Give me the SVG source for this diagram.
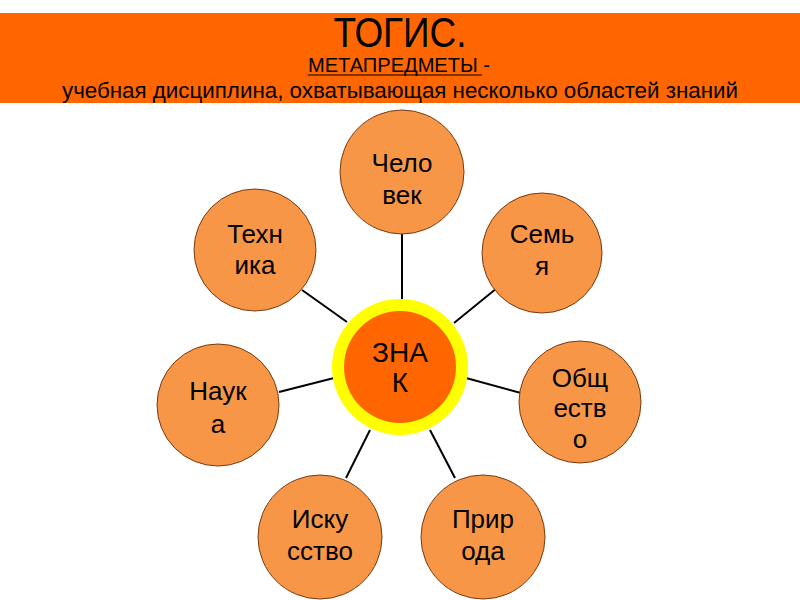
<svg xmlns="http://www.w3.org/2000/svg" width="800" height="600" viewBox="0 0 800 600">
<style>
text{font-family:"Liberation Sans",Arial,sans-serif;fill:#000;text-anchor:middle}
.node{fill:#F79646;stroke:#7a3a10;stroke-width:1}
.lbl{font-size:26px}
.big{font-size:28px}
.link{stroke:#000;stroke-width:2}
</style>
<rect x="0" y="0" width="800" height="600" fill="#fff"/>
<g id="header">
<rect x="0" y="13" width="800" height="90" fill="#FF6600"/>
<text x="400" y="47" font-size="42" textLength="133" lengthAdjust="spacingAndGlyphs">ТОГИС.</text>
<text x="399" y="72" font-size="20" textLength="182" lengthAdjust="spacingAndGlyphs">МЕТАПРЕДМЕТЫ -</text>
<line x1="308" y1="75" x2="482" y2="75" stroke="#000" stroke-width="1"/>
<text x="400" y="98" font-size="22" textLength="676" lengthAdjust="spacingAndGlyphs">учебная дисциплина, охватывающая несколько областей знаний</text>
</g>
<g id="connectors">
<line class="link" x1="402" y1="233" x2="402" y2="300"/>
<line class="link" x1="454" y1="323" x2="497" y2="288"/>
<line class="link" x1="466" y1="378" x2="521" y2="393"/>
<line class="link" x1="430" y1="430" x2="455" y2="478"/>
<line class="link" x1="370" y1="430" x2="346" y2="478"/>
<line class="link" x1="334" y1="378" x2="279" y2="392"/>
<line class="link" x1="347" y1="322" x2="302" y2="290"/>
</g>
<g id="center">
<circle cx="400" cy="367" r="68" fill="#FFFF00"/>
<circle cx="400" cy="367" r="56" fill="#FF6600"/>
<text class="big" x="400" y="362">ЗНА</text>
<text class="big" x="400" y="392">К</text>
</g>
<g id="chelovek">
<circle class="node" cx="402" cy="172" r="62"/>
<text class="lbl" x="402" y="172">Чело</text>
<text class="lbl" x="402" y="204">век</text>
</g>
<g id="semya">
<circle class="node" cx="542" cy="253" r="60"/>
<text class="lbl" x="542" y="243">Семь</text>
<text class="lbl" x="542" y="275">я</text>
</g>
<g id="obshchestvo">
<circle class="node" cx="580" cy="402" r="61"/>
<text class="lbl" x="580" y="387">Общ</text>
<text class="lbl" x="580" y="417">еств</text>
<text class="lbl" x="580" y="448">о</text>
</g>
<g id="priroda">
<circle class="node" cx="483" cy="537" r="62"/>
<text class="lbl" x="483" y="528">Прир</text>
<text class="lbl" x="483" y="560">ода</text>
</g>
<g id="iskusstvo">
<circle class="node" cx="320" cy="537" r="62"/>
<text class="lbl" x="320" y="528">Иску</text>
<text class="lbl" x="320" y="560">сство</text>
</g>
<g id="nauka">
<circle class="node" cx="218" cy="405" r="61"/>
<text class="lbl" x="218" y="400">Наук</text>
<text class="lbl" x="218" y="433">а</text>
</g>
<g id="tekhnika">
<circle class="node" cx="255" cy="250" r="61"/>
<text class="lbl" x="255" y="243">Техн</text>
<text class="lbl" x="255" y="274">ика</text>
</g>
</svg>
